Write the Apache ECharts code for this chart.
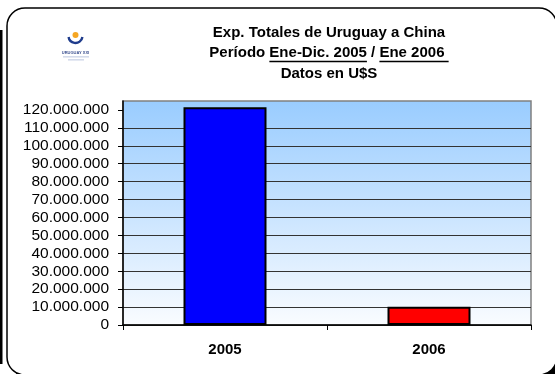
<!DOCTYPE html>
<html><head><meta charset="utf-8">
<script src="https://cdn.jsdelivr.net/npm/echarts@6/dist/echarts.min.js"></script>
<style>html,body{margin:0;padding:0;background:#fff}#c{width:555px;height:374px}</style>
</head><body><div id="c"></div>
<script>
const categories = ['2005', '2006'];
const exportValues = [121500000, 10200000];
const barColors = ['#0000FF', '#FF0000'];
const yTicks = [0, 10000000, 20000000, 30000000, 40000000, 50000000, 60000000, 70000000, 80000000, 90000000, 100000000, 110000000, 120000000];
const yMax = 125000000;
const titleLines = ['Exp. Totales de Uruguay a China', 'Período Ene-Dic. 2005 / Ene 2006 ', 'Datos en U$S'];
const titlePrefix = 'Período ';
const underline1 = 'Ene-Dic. 2005';
const titleMid = ' / ';
const logoText = 'URUGUAY XXI';

const FONT = '"Liberation Sans", Arial, sans-serif';
const titleFontSize = 15;
const fmt = v => String(v).replace(/\B(?=(\d{3})+(?!\d))/g, '.');

const ctx = document.createElement('canvas').getContext('2d');
ctx.font = 'bold ' + titleFontSize + 'px ' + FONT;
const mw = s => ctx.measureText(s).width;
const tcx = 329;
const l2full = mw(titleLines[1]);
const l2left = tcx - l2full / 2;
const u1s = l2left + mw(titlePrefix);
const u1e = u1s + mw(underline1);
const u2s = l2left + mw(titlePrefix + underline1 + titleMid);
const u2e = l2left + l2full;
const ulY = 61.5;

const chart = echarts.init(document.getElementById('c'));
chart.setOption({
  animation: false,
  backgroundColor: 'transparent',
  graphic: [
    { type: 'rect', z: -20, silent: true, shape: { x: 12, y: 13, width: 550, height: 367, r: 18 }, style: { fill: '#000' } },
    { type: 'rect', z: -19, silent: true, shape: { x: 7, y: 8, width: 550, height: 367, r: 18 }, style: { fill: '#fff', stroke: '#000', lineWidth: 1.5 } },
    { type: 'rect', z: -18, silent: true, shape: { x: 0, y: 30, width: 2.5, height: 334 }, style: { fill: '#000' } },
    { type: 'text', z: 10, style: { text: titleLines[0], x: tcx, y: 33, textAlign: 'center', textVerticalAlign: 'middle', font: 'bold ' + titleFontSize + 'px ' + FONT, fill: '#000' } },
    { type: 'text', z: 10, style: { text: titleLines[1], x: tcx, y: 53, textAlign: 'center', textVerticalAlign: 'middle', font: 'bold ' + titleFontSize + 'px ' + FONT, fill: '#000' } },
    { type: 'text', z: 10, style: { text: titleLines[2], x: tcx, y: 74, textAlign: 'center', textVerticalAlign: 'middle', font: 'bold ' + titleFontSize + 'px ' + FONT, fill: '#000' } },
    { type: 'line', z: 10, shape: { x1: u1s, y1: ulY, x2: u1e, y2: ulY }, style: { stroke: '#000', lineWidth: 1.3 } },
    { type: 'line', z: 10, shape: { x1: u2s, y1: ulY, x2: u2e, y2: ulY }, style: { stroke: '#000', lineWidth: 1.3 } },
    { type: 'arc', z: 10, shape: { cx: 75.5, cy: 36, r: 7, startAngle: 0.15, endAngle: Math.PI - 0.15 }, style: { stroke: '#1f3c8c', lineWidth: 2.4, fill: null } },
    { type: 'circle', z: 10, shape: { cx: 75.5, cy: 35, r: 3 }, style: { fill: '#f5a623' } },
    { type: 'text', z: 10, style: { text: logoText, x: 75.5, y: 53, textAlign: 'center', textVerticalAlign: 'middle', font: 'bold 4px ' + FONT, fill: '#3a4f8f' } },
    { type: 'rect', z: 10, shape: { x: 63, y: 56.5, width: 26, height: 0.8 }, style: { fill: '#a9b6d6' } },
    { type: 'rect', z: 10, shape: { x: 68, y: 59.5, width: 16, height: 0.8 }, style: { fill: '#a9b6d6' } }
  ],
  grid: {
    left: 123, right: 24, top: 101, bottom: 49,
    show: true, borderColor: '#808080', borderWidth: 1.5,
    backgroundColor: new echarts.graphic.LinearGradient(0, 0, 0, 1, [
      { offset: 0, color: '#99CCFF' },
      { offset: 1, color: '#FAFCFF' }
    ])
  },
  xAxis: {
    type: 'category',
    data: categories,
    axisLine: { lineStyle: { color: '#000', width: 1.5 } },
    axisTick: { show: true, length: 5, lineStyle: { color: '#000' } },
    axisLabel: { margin: 17, color: '#000', fontFamily: FONT, fontSize: 15, fontWeight: 'bold' },
    splitLine: { show: false }
  },
  yAxis: {
    type: 'value',
    min: 0, max: yMax, interval: 10000000,
    axisLine: { show: true, lineStyle: { color: '#000', width: 1.5 } },
    axisTick: { show: true, length: 5, lineStyle: { color: '#000' }, customValues: yTicks },
    axisLabel: { margin: 14, color: '#000', fontFamily: FONT, fontSize: 15.5, customValues: yTicks,
      formatter: v => (v > yTicks[yTicks.length - 1] ? '' : fmt(v)) },
    splitLine: { show: true, showMaxLine: false, lineStyle: { color: '#333', width: 1.2 } }
  },
  series: [{
    type: 'bar',
    barWidth: 83,
    data: exportValues.map((v, i) => ({ value: v, itemStyle: { color: barColors[i] } })),
    itemStyle: { borderColor: '#000', borderWidth: 2 }
  }]
});
</script></body></html>
